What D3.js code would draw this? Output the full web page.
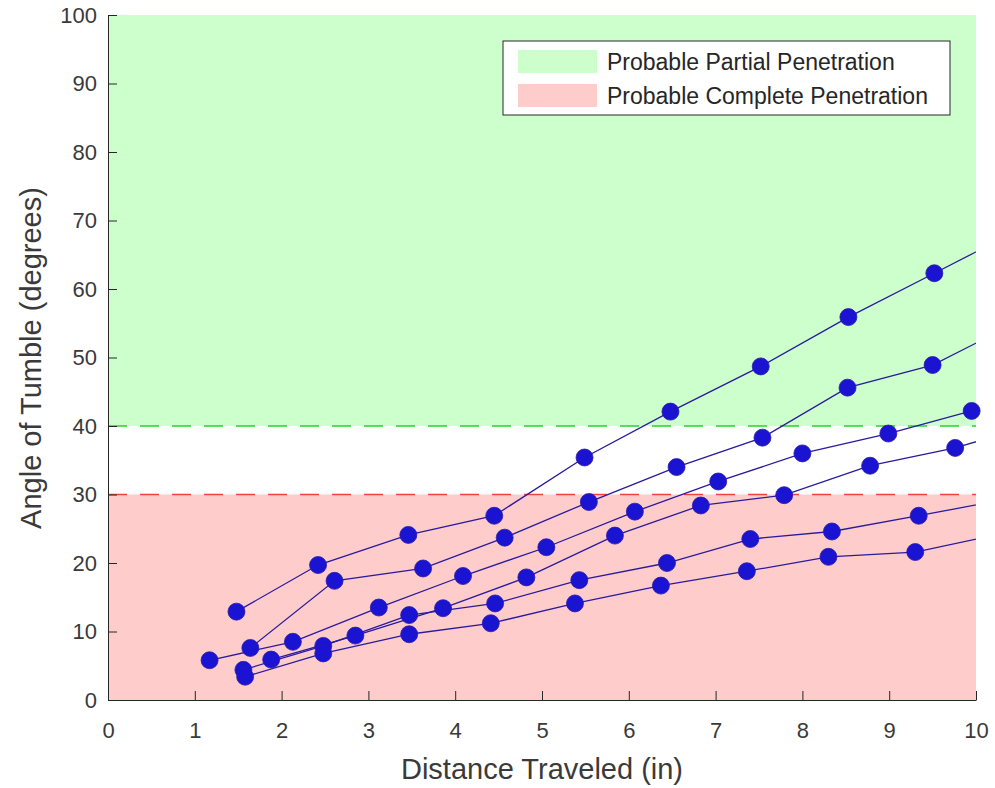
<!DOCTYPE html>
<html>
<head>
<meta charset="utf-8">
<script src="https://cdn.jsdelivr.net/npm/d3@7"></script>
<style>
  body { margin: 0; background: #fff; }
  svg text { font-family: "Liberation Sans", Arial, Helvetica, sans-serif; }
</style>
</head>
<body>
<div id="chart"></div>
<script>
// tumble angle vs distance, six shots (points past 10 get clipped like matlab does)
const shotA_x = [1.48, 2.42, 3.46, 4.45, 5.49, 6.48, 7.52, 8.53, 9.52, 10.52];
const shotA_y = [12.9, 19.7, 24.1, 26.9, 35.4, 42.1, 48.7, 55.9, 62.3, 68.8];
const shotB_x = [1.64, 2.61, 3.63, 4.57, 5.54, 6.55, 7.54, 8.52, 9.50, 10.50];
const shotB_y = [7.6, 17.4, 19.2, 23.7, 28.9, 34.0, 38.3, 45.6, 48.9, 55.3];
const shotC_x = [1.17, 2.13, 3.12, 4.09, 5.05, 6.07, 7.03, 8.00, 8.99, 9.95];
const shotC_y = [5.8, 8.5, 13.5, 18.1, 22.3, 27.5, 31.9, 36.0, 38.9, 42.2];
const shotD_x = [1.88, 2.85, 3.86, 4.82, 5.84, 6.83, 7.79, 8.78, 9.76, 10.75];
const shotD_y = [5.9, 9.4, 13.4, 17.9, 24.0, 28.4, 29.9, 34.2, 36.8, 40.5];
const shotE_x = [1.56, 2.48, 3.47, 4.46, 5.43, 6.44, 7.40, 8.34, 9.34, 10.30];
const shotE_y = [4.4, 7.9, 12.4, 14.1, 17.5, 20.0, 23.5, 24.6, 26.9, 29.2];
const shotF_x = [1.58, 2.48, 3.47, 4.41, 5.38, 6.37, 7.36, 8.30, 9.30, 10.30];
const shotF_y = [3.4, 6.8, 9.6, 11.2, 14.1, 16.7, 18.8, 20.9, 21.6, 24.3];

const xTicks = [0, 1, 2, 3, 4, 5, 6, 7, 8, 9, 10];
const yTicks = [0, 10, 20, 30, 40, 50, 60, 70, 80, 90, 100];

// shaded zones: [low, high] in degrees
const partialZone = [40, 100];
const completeZone = [0, 30];
const legendLabels = ["Probable Partial Penetration", "Probable Complete Penetration"];

class TumbleChart {
  constructor(_config) {
    this.config = {
      parentElement: _config.parentElement,
      containerWidth: _config.containerWidth || 868,
      containerHeight: _config.containerHeight || 685,
      margin: { top: 15, bottom: 88, right: 19, left: 108 },
    };
    this.series = [
      d3.zip(shotA_x, shotA_y),
      d3.zip(shotB_x, shotB_y),
      d3.zip(shotC_x, shotC_y),
      d3.zip(shotD_x, shotD_y),
      d3.zip(shotE_x, shotE_y),
      d3.zip(shotF_x, shotF_y),
    ];
    this.initVis();
  }

  initVis() {
    const vis = this;
    const w = vis.config.containerWidth;
    const h = vis.config.containerHeight;

    vis.svg = d3
      .select(vis.config.parentElement)
      .append("svg")
      .attr("width", w + vis.config.margin.left + vis.config.margin.right)
      .attr("height", h + vis.config.margin.top + vis.config.margin.bottom)
      .append("g")
      .attr("transform", `translate(${vis.config.margin.left},${vis.config.margin.top})`);

    vis.x = d3.scaleLinear().domain([0, 10]).range([0, w]);
    vis.y = d3.scaleLinear().domain([0, 100]).range([h, 0]);

    vis.svg.append("clipPath").attr("id", "plot-clip")
      .append("rect").attr("width", w).attr("height", h);

    // background zones
    vis.svg.append("rect")
      .attr("x", 0).attr("width", w)
      .attr("y", vis.y(partialZone[1]))
      .attr("height", vis.y(partialZone[0]) - vis.y(partialZone[1]))
      .style("fill", "#ccffcc");
    vis.svg.append("rect")
      .attr("x", 0).attr("width", w)
      .attr("y", vis.y(completeZone[1]))
      .attr("height", vis.y(completeZone[0]) - vis.y(completeZone[1]))
      .style("fill", "#ffcccc");

    // threshold lines
    [[partialZone[0], "#2fcf2f"], [completeZone[1], "#f04040"]].forEach(([v, c]) => {
      vis.svg.append("line")
        .attr("x1", 0).attr("x2", w)
        .attr("y1", vis.y(v)).attr("y2", vis.y(v))
        .attr("stroke", c)
        .attr("stroke-width", 1.6)
        .attr("stroke-dasharray", "19,13");
    });

    vis.updateVis();
  }

  updateVis() {
    const vis = this;
    const h = vis.config.containerHeight;

    const line = d3.line().x(d => vis.x(d[0])).y(d => vis.y(d[1]));

    vis.svg.append("g")
      .attr("clip-path", "url(#plot-clip)")
      .selectAll("path.shot")
      .data(vis.series)
      .join("path")
      .attr("class", "shot")
      .attr("d", line)
      .attr("fill", "none")
      .attr("stroke", "#2a1a9e")
      .attr("stroke-width", 1.3);

    vis.svg.append("g")
      .selectAll("circle")
      .data(vis.series.flat().filter(d => d[0] <= 10))
      .join("circle")
      .attr("cx", d => vis.x(d[0]))
      .attr("cy", d => vis.y(d[1]))
      .attr("r", 8.5)
      .attr("fill", "#1a14d2")
      .attr("stroke", "#2a1aa8")
      .attr("stroke-width", 0.8);

    // axes, ticks pointing in
    vis.xAxis = vis.svg.append("g")
      .attr("transform", `translate(0,${h})`)
      .call(d3.axisBottom(vis.x).tickValues(xTicks).tickFormat(d3.format("d"))
        .tickSizeInner(-9).tickSizeOuter(0).tickPadding(22));
    vis.yAxis = vis.svg.append("g")
      .call(d3.axisLeft(vis.y).tickValues(yTicks).tickFormat(d3.format("d"))
        .tickSizeInner(-9).tickSizeOuter(0).tickPadding(11));

    [vis.xAxis, vis.yAxis].forEach(ax => {
      ax.selectAll("path, line").attr("stroke", "#262626").attr("stroke-width", 1);
      ax.selectAll("text")
        .style("font-size", "22px")
        .style("fill", "#3a3a3a")
        .style("font-family", "'Liberation Sans', Arial, sans-serif");
    });

    // X axis label
    vis.svg.append("text")
      .attr("x", vis.x(5))
      .attr("y", h + 79)
      .style("text-anchor", "middle")
      .style("font-size", "29px")
      .style("fill", "#3a3a3a")
      .text("Distance Traveled (in)");

    // Y axis label
    vis.svg.append("text")
      .attr("transform", "rotate(-90)")
      .attr("x", -(358 - vis.config.margin.top))
      .attr("y", 41 - vis.config.margin.left)
      .style("text-anchor", "middle")
      .style("font-size", "29px")
      .style("fill", "#3a3a3a")
      .text("Angle of Tumble (degrees)");

    // legend
    const lg = vis.svg.append("g")
      .attr("transform", `translate(${503 - vis.config.margin.left},${41 - vis.config.margin.top})`);
    lg.append("rect")
      .attr("width", 447).attr("height", 74)
      .attr("fill", "#fff")
      .attr("stroke", "#262626")
      .attr("stroke-width", 1);
    const swatchColors = ["#ccffcc", "#ffcccc"];
    legendLabels.forEach((lbl, i) => {
      lg.append("rect")
        .attr("x", 15).attr("y", 9 + i * 34)
        .attr("width", 79).attr("height", 23)
        .attr("fill", swatchColors[i]);
      lg.append("text")
        .attr("x", 104).attr("y", 29 + i * 34)
        .style("font-size", "23px")
        .style("fill", "#262626")
        .text(lbl);
    });
  }
}

new TumbleChart({ parentElement: "#chart" });
</script>
</body>
</html>
